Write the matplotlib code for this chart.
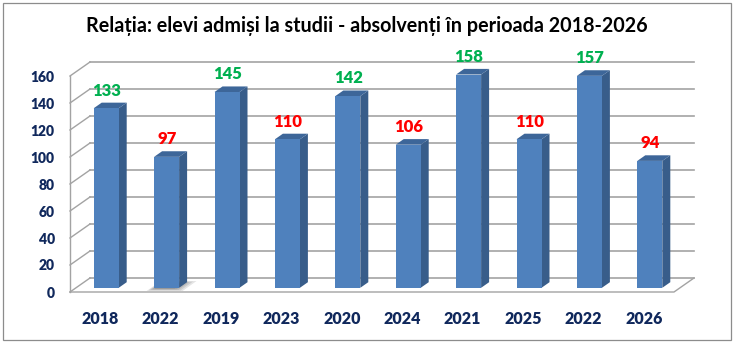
import matplotlib

matplotlib.use("Agg")
import matplotlib.pyplot as plt
from matplotlib.patches import Polygon, Rectangle

# ── Data ─────────────────────────────────────────────────────────
years = ["2018", "2022", "2019", "2023", "2020", "2024", "2021", "2025", "2022", "2026"]
values = [133, 97, 145, 110, 142, 106, 158, 110, 157, 94]
groups = ["admisi", "absolventi"] * 5
y_ticks = [0, 20, 40, 60, 80, 100, 120, 140, 160]

TITLE = "Relația: elevi admiși la studii - absolvenți în perioada 2018-2026"
NAVY = "#10285c"
GRID = "#a3a3a3"
LABEL_COLORS = {"admisi": "#00b050", "absolventi": "#ff0000"}
FRONT, SIDE, TOP = "#4f81bd", "#385d8a", "#3d6699"
WEIGHT = "heavy"

plt.rcParams["font.family"] = ["Lato", "DejaVu Sans"]

W, H = 735, 342
fig = plt.figure(figsize=(W / 100, H / 100), dpi=100)
ax = fig.add_axes([70 / W, 50 / H, 604 / W, 216 / H])
n = len(values)
ax.set_xlim(-0.5, n - 0.5)
ax.set_ylim(y_ticks[0], y_ticks[-1])
for s in ax.spines.values():
    s.set_visible(False)
ax.patch.set_visible(False)

# depth of the 3-D box (20 px right, 14 px up), in data units
px_x = n / 604
px_y = (y_ticks[-1] - y_ticks[0]) / 216
DX, DY = 20 * px_x, 14 * px_y
xl, xr = -0.5, n - 0.5

# back wall gridlines + left wall diagonals
for t in y_ticks:
    ax.plot([xl + DX, xr + DX], [t + DY, t + DY], color=GRID, lw=1.2, zorder=1, clip_on=False)
    ax.plot([xl, xl + DX], [t, t + DY], color=GRID, lw=1.0, zorder=1, clip_on=False)
ax.plot([xl, xl], [y_ticks[0], y_ticks[-1]], color=GRID, lw=1.0, zorder=1, clip_on=False)

# floor outline
ax.plot([xl, xr, xr + DX], [0, 0, DY], color=GRID, lw=1.0, zorder=1, clip_on=False)

# soft shadow on the floor, slanting back from the second bar
bw = 25 * px_x
f0, f1 = 0.3, 0.7
c = 1
for k in range(9):
    g = k * 2.0  # shrink per layer, px
    lo, hi = (-14 + g) * px_x, (22 - g) * px_x
    yb, yt = (1 + g * 0.3) * px_y, (11 - g * 0.3) * px_y
    sl = 14 * px_x * (1 - g * 0.06)
    shadow = Polygon(
        [(c + lo, yb), (c + hi, yb), (c + hi + sl, yt), (c + lo + sl, yt)],
        closed=True,
        facecolor="#000000",
        edgecolor="none",
        alpha=0.1,
        zorder=2,
        clip_on=False,
    )
    ax.add_patch(shadow)

# 3-D bars
for i, v in enumerate(values):
    x0, x1 = i - bw / 2, i + bw / 2
    front = Rectangle((x0 + f0 * DX, f0 * DY), bw, v, facecolor=FRONT, edgecolor="none", zorder=3, clip_on=False)
    side = Polygon(
        [(x1 + f0 * DX, f0 * DY), (x1 + f1 * DX, f1 * DY), (x1 + f1 * DX, v + f1 * DY), (x1 + f0 * DX, v + f0 * DY)],
        closed=True, facecolor=SIDE, edgecolor="none", zorder=3, clip_on=False,
    )
    top = Polygon(
        [(x0 + f0 * DX, v + f0 * DY), (x1 + f0 * DX, v + f0 * DY), (x1 + f1 * DX, v + f1 * DY), (x0 + f1 * DX, v + f1 * DY)],
        closed=True, facecolor=TOP, edgecolor="none", zorder=3, clip_on=False,
    )
    ax.add_patch(side)
    ax.add_patch(top)
    ax.add_patch(front)
    ax.annotate(
        str(v), (i, v), xytext=(4.6, 15.8), textcoords="offset points",
        ha="center", va="center", fontsize=12, fontweight=WEIGHT,
        color=LABEL_COLORS[groups[i]], zorder=4,
    )

# axes ticks / labels
ax.set_xticks(range(n))
ax.set_xticklabels(years)
ax.set_yticks(y_ticks)
ax.tick_params(axis="x", length=0, pad=14, labelsize=11.5, labelcolor=NAVY)
ax.tick_params(axis="y", length=0, pad=11, labelsize=10, labelcolor=NAVY)
for lab in ax.get_xticklabels() + ax.get_yticklabels():
    lab.set_fontweight(WEIGHT)

fig.text(367 / W, 1 - 26 / H, TITLE, ha="center", va="center", fontsize=14.2, fontweight="bold")

# chart frame
fig.patches.append(
    Rectangle((3 / W, 2 / H), 728 / W, 337 / H, transform=fig.transFigure, fill=False, edgecolor="#8c8c8c", lw=0.9)
)

fig.savefig("out.png", dpi=100)
